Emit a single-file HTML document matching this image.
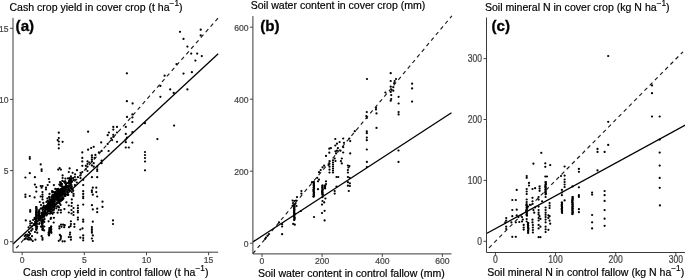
<!DOCTYPE html>
<html lang="en"><head><meta charset="utf-8"><title>Cover crop vs control fallow</title>
<style>html,body{margin:0;padding:0;background:#fff;}body{width:685px;height:279px;overflow:hidden;}svg{display:block;}</style>
</head><body>
<svg width="685" height="279" viewBox="0 0 685 279" font-family="'Liberation Sans', Arial, Helvetica, sans-serif">
<rect width="685" height="279" fill="#fff"/>
<g id="panel-a">
<g fill="#000">
<circle cx="126.9" cy="73.3" r="1.12"/>
<circle cx="126.9" cy="101.2" r="1.12"/>
<circle cx="132.6" cy="103.4" r="1.12"/>
<circle cx="160.4" cy="96.8" r="1.12"/>
<circle cx="160.4" cy="85.9" r="1.12"/>
<circle cx="164.6" cy="75.7" r="1.12"/>
<circle cx="170.2" cy="89.4" r="1.12"/>
<circle cx="173.7" cy="92.9" r="1.12"/>
<circle cx="176.5" cy="64.1" r="1.12"/>
<circle cx="180" cy="31.8" r="1.12"/>
<circle cx="183.5" cy="38.9" r="1.12"/>
<circle cx="183.5" cy="73.6" r="1.12"/>
<circle cx="187.4" cy="46.6" r="1.12"/>
<circle cx="187.4" cy="89.4" r="1.12"/>
<circle cx="191.2" cy="53.6" r="1.12"/>
<circle cx="191.9" cy="72.2" r="1.12"/>
<circle cx="195.4" cy="60.6" r="1.12"/>
<circle cx="197.2" cy="53.6" r="1.12"/>
<circle cx="200.7" cy="29.7" r="1.12"/>
<circle cx="200.7" cy="35.4" r="1.12"/>
<circle cx="201.8" cy="56.1" r="1.12"/>
<circle cx="58.8" cy="132.7" r="1.12"/>
<circle cx="58.8" cy="138" r="1.12"/>
<circle cx="57.7" cy="140.1" r="1.12"/>
<circle cx="58.8" cy="141.5" r="1.12"/>
<circle cx="62.6" cy="141.8" r="1.12"/>
<circle cx="58.8" cy="144.5" r="1.12"/>
<circle cx="58.8" cy="148.3" r="1.12"/>
<circle cx="127" cy="116.9" r="1.12"/>
<circle cx="88.1" cy="131.7" r="1.12"/>
<circle cx="113.3" cy="126.9" r="1.12"/>
<circle cx="117" cy="126.9" r="1.12"/>
<circle cx="125.8" cy="126.9" r="1.12"/>
<circle cx="113.3" cy="129.6" r="1.12"/>
<circle cx="108.9" cy="132.5" r="1.12"/>
<circle cx="117" cy="132.5" r="1.12"/>
<circle cx="107.7" cy="135.2" r="1.12"/>
<circle cx="113.3" cy="134.8" r="1.12"/>
<circle cx="125.8" cy="133.9" r="1.12"/>
<circle cx="113.3" cy="136.9" r="1.12"/>
<circle cx="111.2" cy="138.3" r="1.12"/>
<circle cx="127" cy="137.5" r="1.12"/>
<circle cx="112.1" cy="140.1" r="1.12"/>
<circle cx="125.8" cy="139.6" r="1.12"/>
<circle cx="117" cy="141.8" r="1.12"/>
<circle cx="125.8" cy="142.2" r="1.12"/>
<circle cx="101.2" cy="142.4" r="1.12"/>
<circle cx="107.7" cy="143.9" r="1.12"/>
<circle cx="108.6" cy="151" r="1.12"/>
<circle cx="93.7" cy="146.8" r="1.12"/>
<circle cx="91.1" cy="148" r="1.12"/>
<circle cx="88.1" cy="149.7" r="1.12"/>
<circle cx="125.8" cy="147.5" r="1.12"/>
<circle cx="128.8" cy="147.5" r="1.12"/>
<circle cx="82.3" cy="152.4" r="1.12"/>
<circle cx="98.9" cy="152.4" r="1.12"/>
<circle cx="132.4" cy="114.4" r="1.12"/>
<circle cx="132.4" cy="117.4" r="1.12"/>
<circle cx="132.4" cy="122" r="1.12"/>
<circle cx="145" cy="123.2" r="1.12"/>
<circle cx="174.1" cy="125.6" r="1.12"/>
<circle cx="157.4" cy="139.1" r="1.12"/>
<circle cx="132.4" cy="132" r="1.12"/>
<circle cx="132.4" cy="142.6" r="1.12"/>
<circle cx="145" cy="152" r="1.12"/>
<circle cx="145" cy="155" r="1.12"/>
<circle cx="145" cy="158" r="1.12"/>
<circle cx="145" cy="161.5" r="1.12"/>
<circle cx="145" cy="170.3" r="1.12"/>
<circle cx="29.8" cy="157" r="1.12"/>
<circle cx="29.8" cy="158.8" r="1.12"/>
<circle cx="40.7" cy="164.4" r="1.12"/>
<circle cx="41.6" cy="169.3" r="1.12"/>
<circle cx="41.6" cy="171" r="1.12"/>
<circle cx="59.6" cy="168.1" r="1.12"/>
<circle cx="58.2" cy="169.6" r="1.12"/>
<circle cx="60.9" cy="169.6" r="1.12"/>
<circle cx="69.6" cy="168.4" r="1.12"/>
<circle cx="68.8" cy="172" r="1.12"/>
<circle cx="29.8" cy="173.2" r="1.12"/>
<circle cx="25.4" cy="177.5" r="1.12"/>
<circle cx="34.9" cy="177.2" r="1.12"/>
<circle cx="62.6" cy="175.4" r="1.12"/>
<circle cx="62.6" cy="178" r="1.12"/>
<circle cx="48.9" cy="179" r="1.12"/>
<circle cx="49.5" cy="182" r="1.12"/>
<circle cx="60" cy="182" r="1.12"/>
<circle cx="60.9" cy="184.2" r="1.12"/>
<circle cx="65.3" cy="181.6" r="1.12"/>
<circle cx="34.9" cy="184.6" r="1.12"/>
<circle cx="36.3" cy="187.2" r="1.12"/>
<circle cx="40.7" cy="186" r="1.12"/>
<circle cx="42.5" cy="186" r="1.12"/>
<circle cx="41.6" cy="187.7" r="1.12"/>
<circle cx="47.7" cy="185.1" r="1.12"/>
<circle cx="46" cy="187.7" r="1.12"/>
<circle cx="46" cy="189.5" r="1.12"/>
<circle cx="53.9" cy="185.1" r="1.12"/>
<circle cx="36.3" cy="191.6" r="1.12"/>
<circle cx="42.5" cy="192.1" r="1.12"/>
<circle cx="42.5" cy="194.7" r="1.12"/>
<circle cx="52.1" cy="191.2" r="1.12"/>
<circle cx="49.5" cy="193.9" r="1.12"/>
<circle cx="25.4" cy="194.7" r="1.12"/>
<circle cx="25.4" cy="197" r="1.12"/>
<circle cx="29.8" cy="196" r="1.12"/>
<circle cx="34.6" cy="197.4" r="1.12"/>
<circle cx="40.7" cy="196.5" r="1.12"/>
<circle cx="101.6" cy="150.9" r="1.12"/>
<circle cx="91.9" cy="155.3" r="1.12"/>
<circle cx="91.9" cy="157.4" r="1.12"/>
<circle cx="91.9" cy="159.6" r="1.12"/>
<circle cx="95.4" cy="154.9" r="1.12"/>
<circle cx="94.6" cy="157.9" r="1.12"/>
<circle cx="82.3" cy="157.9" r="1.12"/>
<circle cx="82.3" cy="161.4" r="1.12"/>
<circle cx="101.6" cy="160.5" r="1.12"/>
<circle cx="101.6" cy="163.2" r="1.12"/>
<circle cx="87.5" cy="161.4" r="1.12"/>
<circle cx="89.3" cy="162.6" r="1.12"/>
<circle cx="87.5" cy="164" r="1.12"/>
<circle cx="85.8" cy="165.8" r="1.12"/>
<circle cx="87.5" cy="166.7" r="1.12"/>
<circle cx="91.9" cy="161.4" r="1.12"/>
<circle cx="93.7" cy="163.2" r="1.12"/>
<circle cx="91.9" cy="165.4" r="1.12"/>
<circle cx="93.7" cy="166.7" r="1.12"/>
<circle cx="82.3" cy="165.8" r="1.12"/>
<circle cx="97.2" cy="166.7" r="1.12"/>
<circle cx="97.2" cy="169.3" r="1.12"/>
<circle cx="97.2" cy="171" r="1.12"/>
<circle cx="85.8" cy="169.3" r="1.12"/>
<circle cx="87.5" cy="171" r="1.12"/>
<circle cx="77" cy="170.2" r="1.12"/>
<circle cx="72.6" cy="172.8" r="1.12"/>
<circle cx="80.5" cy="172.8" r="1.12"/>
<circle cx="80.5" cy="175.4" r="1.12"/>
<circle cx="80.5" cy="178.1" r="1.12"/>
<circle cx="82.3" cy="172" r="1.12"/>
<circle cx="77.9" cy="177.2" r="1.12"/>
<circle cx="75.3" cy="179.8" r="1.12"/>
<circle cx="91.9" cy="177.2" r="1.12"/>
<circle cx="97.2" cy="177.2" r="1.12"/>
<circle cx="83.2" cy="179.8" r="1.12"/>
<circle cx="70.9" cy="176.3" r="1.12"/>
<circle cx="70.9" cy="179" r="1.12"/>
<circle cx="71.8" cy="181.6" r="1.12"/>
<circle cx="70.9" cy="184.2" r="1.12"/>
<circle cx="83.2" cy="185.1" r="1.12"/>
<circle cx="71.8" cy="186.8" r="1.12"/>
<circle cx="72.6" cy="189.5" r="1.12"/>
<circle cx="71.8" cy="192.1" r="1.12"/>
<circle cx="73.5" cy="193.9" r="1.12"/>
<circle cx="92.8" cy="187.7" r="1.12"/>
<circle cx="96.3" cy="187.7" r="1.12"/>
<circle cx="91.9" cy="190.4" r="1.12"/>
<circle cx="91.9" cy="192.1" r="1.12"/>
<circle cx="96.3" cy="192.1" r="1.12"/>
<circle cx="92.8" cy="194.7" r="1.12"/>
<circle cx="97.2" cy="196.5" r="1.12"/>
<circle cx="83.2" cy="191.2" r="1.12"/>
<circle cx="83.2" cy="193.9" r="1.12"/>
<circle cx="83.2" cy="196.5" r="1.12"/>
<circle cx="83.2" cy="198.2" r="1.12"/>
<circle cx="36.3" cy="207" r="1.12"/>
<circle cx="36.3" cy="208.9" r="1.12"/>
<circle cx="36.3" cy="210.8" r="1.12"/>
<circle cx="36.3" cy="212.7" r="1.12"/>
<circle cx="36.3" cy="214.6" r="1.12"/>
<circle cx="36.3" cy="216.5" r="1.12"/>
<circle cx="36.3" cy="218.4" r="1.12"/>
<circle cx="36.3" cy="220.3" r="1.12"/>
<circle cx="36.3" cy="222.2" r="1.12"/>
<circle cx="36.3" cy="224.1" r="1.12"/>
<circle cx="36.3" cy="226" r="1.12"/>
<circle cx="36.3" cy="227.9" r="1.12"/>
<circle cx="36.3" cy="229.8" r="1.12"/>
<circle cx="42.5" cy="216" r="1.12"/>
<circle cx="42.5" cy="217.9" r="1.12"/>
<circle cx="42.5" cy="219.8" r="1.12"/>
<circle cx="42.5" cy="221.7" r="1.12"/>
<circle cx="42.5" cy="223.6" r="1.12"/>
<circle cx="42.5" cy="225.5" r="1.12"/>
<circle cx="42.5" cy="227.4" r="1.12"/>
<circle cx="42.5" cy="229.3" r="1.12"/>
<circle cx="51.2" cy="226.6" r="1.12"/>
<circle cx="51.2" cy="229.2" r="1.12"/>
<circle cx="51.2" cy="231.8" r="1.12"/>
<circle cx="30.2" cy="210" r="1.12"/>
<circle cx="30.2" cy="211.7" r="1.12"/>
<circle cx="25.8" cy="220.4" r="1.12"/>
<circle cx="30.2" cy="221.3" r="1.12"/>
<circle cx="31.9" cy="223" r="1.12"/>
<circle cx="48.6" cy="221.3" r="1.12"/>
<circle cx="53.9" cy="217.8" r="1.12"/>
<circle cx="60.9" cy="212.5" r="1.12"/>
<circle cx="60.9" cy="210" r="1.12"/>
<circle cx="68.8" cy="205.5" r="1.12"/>
<circle cx="68.8" cy="212.5" r="1.12"/>
<circle cx="27.5" cy="234.5" r="1.12"/>
<circle cx="27.5" cy="236.2" r="1.12"/>
<circle cx="32" cy="236.2" r="1.12"/>
<circle cx="37.2" cy="232.7" r="1.12"/>
<circle cx="41.6" cy="236.2" r="1.12"/>
<circle cx="42.5" cy="238" r="1.12"/>
<circle cx="48.6" cy="232.7" r="1.12"/>
<circle cx="48.6" cy="234.5" r="1.12"/>
<circle cx="60.9" cy="236.2" r="1.12"/>
<circle cx="60.9" cy="238" r="1.12"/>
<circle cx="68.8" cy="237.1" r="1.12"/>
<circle cx="35.4" cy="239.7" r="1.12"/>
<circle cx="32.8" cy="241" r="1.12"/>
<circle cx="42.5" cy="196.8" r="1.12"/>
<circle cx="42.5" cy="199.4" r="1.12"/>
<circle cx="39.8" cy="202" r="1.12"/>
<circle cx="43.3" cy="202.9" r="1.12"/>
<circle cx="59.4" cy="226.3" r="1.12"/>
<circle cx="59.4" cy="228.4" r="1.12"/>
<circle cx="61" cy="224.7" r="1.12"/>
<circle cx="61.5" cy="226.8" r="1.12"/>
<circle cx="63.1" cy="224.7" r="1.12"/>
<circle cx="64.7" cy="225.2" r="1.12"/>
<circle cx="64.2" cy="227.2" r="1.12"/>
<circle cx="69" cy="227.2" r="1.12"/>
<circle cx="70.6" cy="226.1" r="1.12"/>
<circle cx="74.4" cy="224.1" r="1.12"/>
<circle cx="74.4" cy="226.8" r="1.12"/>
<circle cx="70.1" cy="232.7" r="1.12"/>
<circle cx="80.3" cy="229.5" r="1.12"/>
<circle cx="82.5" cy="228.4" r="1.12"/>
<circle cx="59.9" cy="234.9" r="1.12"/>
<circle cx="58.8" cy="240.8" r="1.12"/>
<circle cx="62.6" cy="241.3" r="1.12"/>
<circle cx="64.7" cy="241.3" r="1.12"/>
<circle cx="80.3" cy="237.6" r="1.12"/>
<circle cx="73.5" cy="195.9" r="1.12"/>
<circle cx="102.5" cy="201.7" r="1.12"/>
<circle cx="102.5" cy="206.9" r="1.12"/>
<circle cx="71.8" cy="199.4" r="1.12"/>
<circle cx="71.8" cy="202.9" r="1.12"/>
<circle cx="83.2" cy="204.6" r="1.12"/>
<circle cx="91.9" cy="205.2" r="1.12"/>
<circle cx="77.9" cy="205.5" r="1.12"/>
<circle cx="77.9" cy="208.2" r="1.12"/>
<circle cx="77.9" cy="210.8" r="1.12"/>
<circle cx="77.9" cy="212.5" r="1.12"/>
<circle cx="71.5" cy="206" r="1.12"/>
<circle cx="73.5" cy="208" r="1.12"/>
<circle cx="71.5" cy="210" r="1.12"/>
<circle cx="73.5" cy="212" r="1.12"/>
<circle cx="71.5" cy="213.5" r="1.12"/>
<circle cx="73.5" cy="215" r="1.12"/>
<circle cx="92.8" cy="209.4" r="1.12"/>
<circle cx="97.2" cy="208.7" r="1.12"/>
<circle cx="97.2" cy="212.2" r="1.12"/>
<circle cx="77.9" cy="217.5" r="1.12"/>
<circle cx="77.9" cy="219.6" r="1.12"/>
<circle cx="83.2" cy="219.6" r="1.12"/>
<circle cx="83.2" cy="221.7" r="1.12"/>
<circle cx="92.8" cy="221.7" r="1.12"/>
<circle cx="70.9" cy="221.3" r="1.12"/>
<circle cx="70.9" cy="224" r="1.12"/>
<circle cx="113" cy="220.4" r="1.12"/>
<circle cx="113" cy="224" r="1.12"/>
<circle cx="91.9" cy="227" r="1.12"/>
<circle cx="91.9" cy="229.2" r="1.12"/>
<circle cx="91.9" cy="231" r="1.12"/>
<circle cx="91.9" cy="232.7" r="1.12"/>
<circle cx="70.9" cy="237.1" r="1.12"/>
<circle cx="70.9" cy="239.7" r="1.12"/>
<circle cx="83.2" cy="235.4" r="1.12"/>
<circle cx="83.2" cy="238" r="1.12"/>
<circle cx="83.2" cy="240.3" r="1.12"/>
<circle cx="92.8" cy="235.4" r="1.12"/>
<circle cx="91.9" cy="238.5" r="1.12"/>
<circle cx="92.8" cy="241" r="1.12"/>
<circle cx="24.7" cy="236" r="1.12"/>
<circle cx="25.8" cy="234.9" r="1.12"/>
<circle cx="25.8" cy="238.1" r="1.12"/>
<circle cx="27.4" cy="239.2" r="1.12"/>
<circle cx="28.5" cy="237.6" r="1.12"/>
<circle cx="29" cy="235.4" r="1.12"/>
<circle cx="29" cy="232.2" r="1.12"/>
<circle cx="29" cy="239.7" r="1.12"/>
<circle cx="30.1" cy="238.1" r="1.12"/>
<circle cx="30.1" cy="233.8" r="1.12"/>
<circle cx="31.2" cy="230.6" r="1.12"/>
<circle cx="31.2" cy="239.7" r="1.12"/>
<circle cx="32.3" cy="229" r="1.12"/>
<circle cx="24.7" cy="239.2" r="1.12"/>
<circle cx="42.5" cy="239.7" r="1.12"/>
<circle cx="60.4" cy="239.6" r="1.12"/>
<circle cx="49.4" cy="228" r="1.12"/>
<circle cx="49.4" cy="230.2" r="1.12"/>
<circle cx="69.9" cy="234.6" r="1.12"/>
<circle cx="31.9" cy="226.5" r="1.12"/>
<circle cx="44.3" cy="226.5" r="1.12"/>
<circle cx="30.2" cy="225.5" r="1.12"/>
<circle cx="28.6" cy="227.4" r="1.12"/>
<circle cx="30.3" cy="223.5" r="1.12"/>
<circle cx="34.4" cy="225" r="1.12"/>
<circle cx="44.2" cy="221.9" r="1.12"/>
<circle cx="39.6" cy="223.1" r="1.12"/>
<circle cx="40.9" cy="226.6" r="1.12"/>
<circle cx="44.1" cy="230.4" r="1.12"/>
<circle cx="36.3" cy="207" r="1.12"/>
<circle cx="36.4" cy="208.2" r="1.12"/>
<circle cx="36.7" cy="209.5" r="1.12"/>
<circle cx="36.3" cy="210.8" r="1.12"/>
<circle cx="36.3" cy="212" r="1.12"/>
<circle cx="36.4" cy="213.2" r="1.12"/>
<circle cx="36" cy="214.5" r="1.12"/>
<circle cx="36.3" cy="215.8" r="1.12"/>
<circle cx="36.4" cy="217" r="1.12"/>
<circle cx="36.6" cy="218.2" r="1.12"/>
<circle cx="35.9" cy="219.5" r="1.12"/>
<circle cx="36.1" cy="220.8" r="1.12"/>
<circle cx="35.9" cy="222" r="1.12"/>
<circle cx="36.6" cy="223.2" r="1.12"/>
<circle cx="36.5" cy="224.5" r="1.12"/>
<circle cx="35.9" cy="225.8" r="1.12"/>
<circle cx="36.7" cy="227" r="1.12"/>
<circle cx="36.7" cy="228.2" r="1.12"/>
<circle cx="36.4" cy="229.5" r="1.12"/>
<circle cx="42.6" cy="216" r="1.12"/>
<circle cx="42.2" cy="217.2" r="1.12"/>
<circle cx="42.1" cy="218.5" r="1.12"/>
<circle cx="42.5" cy="219.8" r="1.12"/>
<circle cx="42.1" cy="221" r="1.12"/>
<circle cx="42.2" cy="222.2" r="1.12"/>
<circle cx="42.3" cy="223.5" r="1.12"/>
<circle cx="42.1" cy="224.8" r="1.12"/>
<circle cx="42.5" cy="226" r="1.12"/>
<circle cx="42.4" cy="227.2" r="1.12"/>
<circle cx="42.8" cy="228.5" r="1.12"/>
<circle cx="42.5" cy="229.8" r="1.12"/>
<circle cx="51.1" cy="226.6" r="1.12"/>
<circle cx="51" cy="227.8" r="1.12"/>
<circle cx="51.1" cy="229.1" r="1.12"/>
<circle cx="51" cy="230.3" r="1.12"/>
<circle cx="50.8" cy="231.6" r="1.12"/>
<circle cx="51.4" cy="232.8" r="1.12"/>
<circle cx="49.8" cy="228" r="1.12"/>
<circle cx="49.7" cy="229.2" r="1.12"/>
<circle cx="49.6" cy="230.5" r="1.12"/>
<circle cx="49.2" cy="231.8" r="1.12"/>
<circle cx="49.2" cy="233" r="1.12"/>
<circle cx="49.2" cy="234.2" r="1.12"/>
<circle cx="49" cy="235.5" r="1.12"/>
<circle cx="51.8" cy="201.3" r="1.12"/>
<circle cx="52.1" cy="204.4" r="1.12"/>
<circle cx="44.9" cy="211.8" r="1.12"/>
<circle cx="65.8" cy="186.5" r="1.12"/>
<circle cx="65" cy="188.1" r="1.12"/>
<circle cx="58.4" cy="195.4" r="1.12"/>
<circle cx="37.4" cy="215.5" r="1.12"/>
<circle cx="59.6" cy="192.9" r="1.12"/>
<circle cx="37.2" cy="226.5" r="1.12"/>
<circle cx="45.3" cy="212.4" r="1.12"/>
<circle cx="57.5" cy="197.4" r="1.12"/>
<circle cx="59.7" cy="197.5" r="1.12"/>
<circle cx="57.6" cy="195.5" r="1.12"/>
<circle cx="47.7" cy="200.8" r="1.12"/>
<circle cx="60.1" cy="189.5" r="1.12"/>
<circle cx="48.1" cy="210.5" r="1.12"/>
<circle cx="50.9" cy="204.8" r="1.12"/>
<circle cx="60.9" cy="192.6" r="1.12"/>
<circle cx="49.9" cy="209.5" r="1.12"/>
<circle cx="49.1" cy="201.3" r="1.12"/>
<circle cx="46.2" cy="208.5" r="1.12"/>
<circle cx="58.8" cy="202" r="1.12"/>
<circle cx="54.9" cy="194.7" r="1.12"/>
<circle cx="33.9" cy="224.2" r="1.12"/>
<circle cx="53.3" cy="205.1" r="1.12"/>
<circle cx="59.5" cy="195.3" r="1.12"/>
<circle cx="39.5" cy="213.4" r="1.12"/>
<circle cx="61.3" cy="189.3" r="1.12"/>
<circle cx="69.1" cy="183.1" r="1.12"/>
<circle cx="55.6" cy="204.6" r="1.12"/>
<circle cx="60.7" cy="196.3" r="1.12"/>
<circle cx="49.8" cy="210.8" r="1.12"/>
<circle cx="44.5" cy="213.5" r="1.12"/>
<circle cx="67.6" cy="194.7" r="1.12"/>
<circle cx="39.5" cy="215.8" r="1.12"/>
<circle cx="69.2" cy="182.2" r="1.12"/>
<circle cx="35" cy="232" r="1.12"/>
<circle cx="58.1" cy="199.7" r="1.12"/>
<circle cx="43" cy="209" r="1.12"/>
<circle cx="65.7" cy="187.7" r="1.12"/>
<circle cx="56.9" cy="196.1" r="1.12"/>
<circle cx="70.7" cy="180.4" r="1.12"/>
<circle cx="59.7" cy="192.6" r="1.12"/>
<circle cx="38.4" cy="212.7" r="1.12"/>
<circle cx="64.2" cy="187.8" r="1.12"/>
<circle cx="34.3" cy="225.1" r="1.12"/>
<circle cx="63" cy="198.7" r="1.12"/>
<circle cx="52.5" cy="198.4" r="1.12"/>
<circle cx="41" cy="208.5" r="1.12"/>
<circle cx="60.1" cy="195.1" r="1.12"/>
<circle cx="57.7" cy="194.3" r="1.12"/>
<circle cx="55.6" cy="194.5" r="1.12"/>
<circle cx="47.7" cy="209.6" r="1.12"/>
<circle cx="65.1" cy="188.9" r="1.12"/>
<circle cx="45.4" cy="206.4" r="1.12"/>
<circle cx="69.4" cy="186.2" r="1.12"/>
<circle cx="40.3" cy="216.4" r="1.12"/>
<circle cx="52.9" cy="203.5" r="1.12"/>
<circle cx="68.8" cy="189.3" r="1.12"/>
<circle cx="67.3" cy="191.8" r="1.12"/>
<circle cx="46.4" cy="206.7" r="1.12"/>
<circle cx="65.9" cy="184.5" r="1.12"/>
<circle cx="57.9" cy="196.2" r="1.12"/>
<circle cx="56" cy="196.5" r="1.12"/>
<circle cx="52.6" cy="201.4" r="1.12"/>
<circle cx="60.3" cy="194.2" r="1.12"/>
<circle cx="62.2" cy="189.8" r="1.12"/>
<circle cx="74.9" cy="177" r="1.12"/>
<circle cx="50.1" cy="206.9" r="1.12"/>
<circle cx="54.3" cy="196.9" r="1.12"/>
<circle cx="51" cy="202.7" r="1.12"/>
<circle cx="73.2" cy="190.8" r="1.12"/>
<circle cx="42.9" cy="212" r="1.12"/>
<circle cx="58.5" cy="195.2" r="1.12"/>
<circle cx="50" cy="202.7" r="1.12"/>
<circle cx="57.3" cy="199.6" r="1.12"/>
<circle cx="58" cy="198.9" r="1.12"/>
<circle cx="53.4" cy="202.6" r="1.12"/>
<circle cx="53.8" cy="212.5" r="1.12"/>
<circle cx="49.4" cy="201.8" r="1.12"/>
<circle cx="42.5" cy="213.8" r="1.12"/>
<circle cx="64.2" cy="186.5" r="1.12"/>
<circle cx="69.6" cy="191.1" r="1.12"/>
<circle cx="50.8" cy="205.9" r="1.12"/>
<circle cx="60.8" cy="189.2" r="1.12"/>
<circle cx="65.5" cy="194.5" r="1.12"/>
<circle cx="61.4" cy="199.2" r="1.12"/>
<circle cx="56.2" cy="193.7" r="1.12"/>
<circle cx="52.9" cy="201.5" r="1.12"/>
<circle cx="62.6" cy="191.2" r="1.12"/>
<circle cx="53.5" cy="195.2" r="1.12"/>
<circle cx="65.1" cy="190.2" r="1.12"/>
<circle cx="42.7" cy="209.5" r="1.12"/>
<circle cx="51.7" cy="203" r="1.12"/>
<circle cx="61.6" cy="191.9" r="1.12"/>
<circle cx="60.9" cy="199.8" r="1.12"/>
<circle cx="39" cy="214.8" r="1.12"/>
<circle cx="44.6" cy="215.5" r="1.12"/>
<circle cx="39.4" cy="211.7" r="1.12"/>
<circle cx="62" cy="186.2" r="1.12"/>
<circle cx="44.8" cy="211" r="1.12"/>
<circle cx="42.8" cy="210.1" r="1.12"/>
<circle cx="70.6" cy="186.6" r="1.12"/>
<circle cx="70.3" cy="179.2" r="1.12"/>
<circle cx="52.6" cy="210.7" r="1.12"/>
<circle cx="68.8" cy="185.4" r="1.12"/>
<circle cx="48.3" cy="205.6" r="1.12"/>
<circle cx="58.6" cy="189.9" r="1.12"/>
<circle cx="44" cy="207.2" r="1.12"/>
<circle cx="69.6" cy="178.1" r="1.12"/>
<circle cx="52.6" cy="205.7" r="1.12"/>
<circle cx="64.8" cy="188.8" r="1.12"/>
<circle cx="55.7" cy="193.3" r="1.12"/>
<circle cx="51.7" cy="213" r="1.12"/>
<circle cx="50.5" cy="212.5" r="1.12"/>
<circle cx="62.8" cy="190.2" r="1.12"/>
<circle cx="48.2" cy="207.4" r="1.12"/>
<circle cx="62.9" cy="191" r="1.12"/>
<circle cx="68" cy="186.1" r="1.12"/>
<circle cx="65" cy="182.9" r="1.12"/>
<circle cx="70.9" cy="185.5" r="1.12"/>
<circle cx="63.4" cy="198.6" r="1.12"/>
<circle cx="43.4" cy="220.7" r="1.12"/>
<circle cx="65.3" cy="193.8" r="1.12"/>
<circle cx="54.3" cy="201.5" r="1.12"/>
<circle cx="54.1" cy="203.3" r="1.12"/>
<circle cx="56.8" cy="190.6" r="1.12"/>
<circle cx="54.9" cy="197.9" r="1.12"/>
<circle cx="64.6" cy="190.3" r="1.12"/>
<circle cx="41.6" cy="216.8" r="1.12"/>
<circle cx="65.4" cy="195.5" r="1.12"/>
<circle cx="48.3" cy="203.1" r="1.12"/>
<circle cx="62.5" cy="191.8" r="1.12"/>
<circle cx="62.6" cy="191" r="1.12"/>
<circle cx="42.4" cy="220.1" r="1.12"/>
<circle cx="47.9" cy="203.9" r="1.12"/>
<circle cx="48.6" cy="210.6" r="1.12"/>
<circle cx="46.5" cy="215.5" r="1.12"/>
<circle cx="53.2" cy="206.8" r="1.12"/>
<circle cx="58.1" cy="206.3" r="1.12"/>
<circle cx="57.8" cy="199.6" r="1.12"/>
<circle cx="34.6" cy="219.1" r="1.12"/>
<circle cx="51.6" cy="212.8" r="1.12"/>
<circle cx="45.5" cy="209.1" r="1.12"/>
<circle cx="49.7" cy="202.5" r="1.12"/>
<circle cx="62.1" cy="189.6" r="1.12"/>
<circle cx="57.8" cy="191.5" r="1.12"/>
<circle cx="61.2" cy="191.4" r="1.12"/>
<circle cx="33.1" cy="220" r="1.12"/>
<circle cx="67.8" cy="187.3" r="1.12"/>
<circle cx="49.6" cy="197.8" r="1.12"/>
<circle cx="36.5" cy="218.1" r="1.12"/>
<circle cx="44.9" cy="208" r="1.12"/>
<circle cx="73.7" cy="180.2" r="1.12"/>
<circle cx="60.1" cy="190.6" r="1.12"/>
<circle cx="45.2" cy="211" r="1.12"/>
<circle cx="57.4" cy="193.9" r="1.12"/>
<circle cx="54.1" cy="201.8" r="1.12"/>
<circle cx="44" cy="213.3" r="1.12"/>
<circle cx="63.5" cy="190.3" r="1.12"/>
<circle cx="45.7" cy="213.5" r="1.12"/>
<circle cx="66.1" cy="185.3" r="1.12"/>
<circle cx="60.8" cy="191.7" r="1.12"/>
<circle cx="71.6" cy="180.2" r="1.12"/>
<circle cx="53.7" cy="199.2" r="1.12"/>
<circle cx="34.6" cy="217.9" r="1.12"/>
<circle cx="57.7" cy="199.9" r="1.12"/>
<circle cx="68" cy="178.4" r="1.12"/>
<circle cx="40.1" cy="218.9" r="1.12"/>
<circle cx="57.4" cy="196.6" r="1.12"/>
<circle cx="50.4" cy="209" r="1.12"/>
<circle cx="65" cy="194" r="1.12"/>
<circle cx="40.7" cy="208.5" r="1.12"/>
<circle cx="64.5" cy="182.1" r="1.12"/>
<circle cx="62.7" cy="195.2" r="1.12"/>
<circle cx="57.1" cy="206.6" r="1.12"/>
<circle cx="46.8" cy="209.1" r="1.12"/>
<circle cx="59.8" cy="197.8" r="1.12"/>
<circle cx="53.2" cy="200.1" r="1.12"/>
<circle cx="58.3" cy="193.8" r="1.12"/>
<circle cx="56.6" cy="199.6" r="1.12"/>
<circle cx="62.5" cy="191.6" r="1.12"/>
<circle cx="46" cy="212.3" r="1.12"/>
<circle cx="54.4" cy="201" r="1.12"/>
<circle cx="56" cy="198.9" r="1.12"/>
<circle cx="56.2" cy="199.2" r="1.12"/>
<circle cx="41.6" cy="212.8" r="1.12"/>
<circle cx="65.2" cy="187.1" r="1.12"/>
<circle cx="52.5" cy="200.8" r="1.12"/>
<circle cx="44.6" cy="219.1" r="1.12"/>
<circle cx="55" cy="203.8" r="1.12"/>
<circle cx="62" cy="196.9" r="1.12"/>
<circle cx="43.8" cy="205.6" r="1.12"/>
<circle cx="50.5" cy="210.5" r="1.12"/>
<circle cx="46.6" cy="206.9" r="1.12"/>
<circle cx="59.5" cy="194.4" r="1.12"/>
<circle cx="69.6" cy="181.2" r="1.12"/>
<circle cx="54.2" cy="198.4" r="1.12"/>
<circle cx="71.3" cy="178.2" r="1.12"/>
<circle cx="64.9" cy="193.7" r="1.12"/>
<circle cx="52.9" cy="199.2" r="1.12"/>
<circle cx="51.4" cy="199.5" r="1.12"/>
<circle cx="60.5" cy="190.2" r="1.12"/>
<circle cx="52.3" cy="192.4" r="1.12"/>
<circle cx="67.1" cy="187.7" r="1.12"/>
<circle cx="55.3" cy="188.9" r="1.12"/>
<circle cx="50.9" cy="200.8" r="1.12"/>
<circle cx="64.4" cy="189.7" r="1.12"/>
<circle cx="42.5" cy="212.8" r="1.12"/>
<circle cx="58.1" cy="191.9" r="1.12"/>
<circle cx="62.4" cy="191.8" r="1.12"/>
<circle cx="63.1" cy="188.9" r="1.12"/>
<circle cx="56.5" cy="198.1" r="1.12"/>
<circle cx="51.9" cy="200.5" r="1.12"/>
<circle cx="43.7" cy="214.9" r="1.12"/>
<circle cx="54.5" cy="206.6" r="1.12"/>
<circle cx="50" cy="213.7" r="1.12"/>
<circle cx="47.4" cy="205.8" r="1.12"/>
<circle cx="60.2" cy="194.5" r="1.12"/>
<circle cx="52" cy="209" r="1.12"/>
<circle cx="73.1" cy="178.2" r="1.12"/>
<circle cx="65.6" cy="192.1" r="1.12"/>
<circle cx="52.5" cy="210.2" r="1.12"/>
<circle cx="62.4" cy="188.1" r="1.12"/>
<circle cx="35" cy="221.8" r="1.12"/>
<circle cx="60.9" cy="200.9" r="1.12"/>
<circle cx="35.8" cy="225.2" r="1.12"/>
<circle cx="48" cy="213.4" r="1.12"/>
<circle cx="54.7" cy="199.2" r="1.12"/>
<circle cx="60.9" cy="190.7" r="1.12"/>
<circle cx="69.8" cy="179.1" r="1.12"/>
<circle cx="41" cy="217.2" r="1.12"/>
<circle cx="43.6" cy="216.8" r="1.12"/>
<circle cx="53.6" cy="201.5" r="1.12"/>
<circle cx="59.4" cy="201.7" r="1.12"/>
<circle cx="41.8" cy="214.4" r="1.12"/>
<circle cx="52.4" cy="204.1" r="1.12"/>
<circle cx="53.8" cy="204.4" r="1.12"/>
<circle cx="61.6" cy="191.4" r="1.12"/>
<circle cx="53.5" cy="204.3" r="1.12"/>
<circle cx="52.6" cy="213.8" r="1.12"/>
<circle cx="44.4" cy="211.3" r="1.12"/>
<circle cx="39.1" cy="216.4" r="1.12"/>
<circle cx="55.9" cy="204.6" r="1.12"/>
<circle cx="51.9" cy="204.7" r="1.12"/>
<circle cx="59.1" cy="193" r="1.12"/>
<circle cx="54" cy="204.5" r="1.12"/>
<circle cx="52.9" cy="202.5" r="1.12"/>
<circle cx="61.9" cy="191.2" r="1.12"/>
<circle cx="47" cy="214.2" r="1.12"/>
<circle cx="50.6" cy="207.8" r="1.12"/>
<circle cx="43.1" cy="213.4" r="1.12"/>
<circle cx="49.4" cy="205.6" r="1.12"/>
<circle cx="59.8" cy="196.5" r="1.12"/>
<circle cx="51.1" cy="199.6" r="1.12"/>
<circle cx="55.7" cy="194.6" r="1.12"/>
<circle cx="46.7" cy="207.9" r="1.12"/>
<circle cx="60.6" cy="184.3" r="1.12"/>
<circle cx="57.7" cy="191.7" r="1.12"/>
<circle cx="62.2" cy="188.2" r="1.12"/>
<circle cx="59.6" cy="195.6" r="1.12"/>
<circle cx="59.6" cy="199.4" r="1.12"/>
<circle cx="66.5" cy="191.7" r="1.12"/>
<circle cx="57" cy="189.1" r="1.12"/>
<circle cx="52.1" cy="203" r="1.12"/>
<circle cx="66.3" cy="187.6" r="1.12"/>
<circle cx="46.2" cy="208.5" r="1.12"/>
<circle cx="60.4" cy="191.2" r="1.12"/>
<circle cx="46.5" cy="201.9" r="1.12"/>
<circle cx="71.4" cy="182" r="1.12"/>
<circle cx="57.2" cy="199.4" r="1.12"/>
<circle cx="68.9" cy="187.8" r="1.12"/>
<circle cx="61.3" cy="195.1" r="1.12"/>
<circle cx="47.3" cy="205.3" r="1.12"/>
<circle cx="68" cy="185.8" r="1.12"/>
<circle cx="47.5" cy="204.8" r="1.12"/>
<circle cx="53.9" cy="199.9" r="1.12"/>
<circle cx="70" cy="179" r="1.12"/>
<circle cx="49.1" cy="196.9" r="1.12"/>
<circle cx="54.5" cy="197.3" r="1.12"/>
<circle cx="47.8" cy="207.9" r="1.12"/>
<circle cx="36.6" cy="212.6" r="1.12"/>
<circle cx="68.4" cy="190.5" r="1.12"/>
<circle cx="39.1" cy="224" r="1.12"/>
<circle cx="66.4" cy="189.5" r="1.12"/>
<circle cx="53.8" cy="202.6" r="1.12"/>
<circle cx="53.2" cy="206.4" r="1.12"/>
<circle cx="54.7" cy="206.3" r="1.12"/>
<circle cx="53.7" cy="200.1" r="1.12"/>
<circle cx="59.2" cy="196.4" r="1.12"/>
<circle cx="45.2" cy="209.9" r="1.12"/>
<circle cx="49.5" cy="199.5" r="1.12"/>
<circle cx="62.3" cy="192.6" r="1.12"/>
<circle cx="49.6" cy="208.7" r="1.12"/>
<circle cx="44.9" cy="212.4" r="1.12"/>
<circle cx="57.4" cy="195.2" r="1.12"/>
<circle cx="60.2" cy="185.6" r="1.12"/>
<circle cx="47.2" cy="208.3" r="1.12"/>
<circle cx="35.4" cy="223.4" r="1.12"/>
<circle cx="56.2" cy="198.1" r="1.12"/>
<circle cx="58.6" cy="197.1" r="1.12"/>
<circle cx="58.2" cy="196.3" r="1.12"/>
<circle cx="62.3" cy="199.8" r="1.12"/>
<circle cx="45.4" cy="210.4" r="1.12"/>
<circle cx="43.9" cy="216.3" r="1.12"/>
<circle cx="60.8" cy="196.3" r="1.12"/>
<circle cx="60.9" cy="190.5" r="1.12"/>
<circle cx="57.5" cy="195.1" r="1.12"/>
<circle cx="53.4" cy="207.6" r="1.12"/>
<circle cx="54.1" cy="199" r="1.12"/>
<circle cx="49" cy="206.9" r="1.12"/>
<circle cx="62.1" cy="195.9" r="1.12"/>
<circle cx="61" cy="185.8" r="1.12"/>
<circle cx="48.8" cy="206.1" r="1.12"/>
<circle cx="52.9" cy="195.9" r="1.12"/>
<circle cx="57.6" cy="193.4" r="1.12"/>
<circle cx="47.4" cy="208.3" r="1.12"/>
<circle cx="54.3" cy="208" r="1.12"/>
<circle cx="69.1" cy="180.9" r="1.12"/>
<circle cx="36.6" cy="216.9" r="1.12"/>
<circle cx="53.1" cy="200.2" r="1.12"/>
<circle cx="58.2" cy="202.7" r="1.12"/>
<circle cx="52.3" cy="196.8" r="1.12"/>
<circle cx="48.6" cy="211.2" r="1.12"/>
<circle cx="40.5" cy="220.7" r="1.12"/>
<circle cx="57.8" cy="189.9" r="1.12"/>
<circle cx="58.8" cy="194.8" r="1.12"/>
<circle cx="49.1" cy="209.1" r="1.12"/>
<circle cx="59.8" cy="192.5" r="1.12"/>
<circle cx="44.1" cy="216.7" r="1.12"/>
<circle cx="57.4" cy="196.3" r="1.12"/>
<circle cx="41.1" cy="215.9" r="1.12"/>
<circle cx="48.9" cy="204.7" r="1.12"/>
<circle cx="53.2" cy="202.2" r="1.12"/>
<circle cx="50.8" cy="200.2" r="1.12"/>
<circle cx="68.6" cy="186.7" r="1.12"/>
<circle cx="63.1" cy="194.3" r="1.12"/>
<circle cx="55.2" cy="196.7" r="1.12"/>
<circle cx="69.9" cy="185.4" r="1.12"/>
<circle cx="53.7" cy="200.6" r="1.12"/>
<circle cx="39.1" cy="217.1" r="1.12"/>
<circle cx="47.5" cy="206.5" r="1.12"/>
<circle cx="42.9" cy="221.3" r="1.12"/>
<circle cx="54.8" cy="199.1" r="1.12"/>
<circle cx="48.8" cy="203" r="1.12"/>
<circle cx="51.6" cy="206.1" r="1.12"/>
<circle cx="59.3" cy="201.8" r="1.12"/>
<circle cx="47.5" cy="208.2" r="1.12"/>
<circle cx="63.1" cy="191.9" r="1.12"/>
<circle cx="57.6" cy="199.9" r="1.12"/>
<circle cx="57.5" cy="190.4" r="1.12"/>
<circle cx="47.4" cy="198.4" r="1.12"/>
<circle cx="47.8" cy="207.7" r="1.12"/>
<circle cx="56.2" cy="194.4" r="1.12"/>
<circle cx="41.8" cy="223" r="1.12"/>
<circle cx="60.6" cy="190.6" r="1.12"/>
<circle cx="60.8" cy="182.8" r="1.12"/>
<circle cx="56.5" cy="197.3" r="1.12"/>
<circle cx="63.9" cy="188.8" r="1.12"/>
<circle cx="71.4" cy="187.3" r="1.12"/>
<circle cx="50.6" cy="219" r="1.12"/>
<circle cx="62.7" cy="193.1" r="1.12"/>
<circle cx="63.9" cy="181.5" r="1.12"/>
<circle cx="54.4" cy="201.7" r="1.12"/>
<circle cx="49.3" cy="209.6" r="1.12"/>
<circle cx="48" cy="204.9" r="1.12"/>
<circle cx="54.8" cy="199.9" r="1.12"/>
<circle cx="52.7" cy="198.7" r="1.12"/>
<circle cx="59.5" cy="195.7" r="1.12"/>
<circle cx="61.2" cy="193.8" r="1.12"/>
<circle cx="42.6" cy="207.4" r="1.12"/>
<circle cx="59.2" cy="199.4" r="1.12"/>
<circle cx="65.4" cy="187.2" r="1.12"/>
<circle cx="38.4" cy="211.3" r="1.12"/>
<circle cx="57.8" cy="193.2" r="1.12"/>
<circle cx="56.4" cy="199" r="1.12"/>
<circle cx="38.6" cy="213.7" r="1.12"/>
<circle cx="54.7" cy="201.4" r="1.12"/>
<circle cx="58" cy="196.4" r="1.12"/>
<circle cx="61.3" cy="194.6" r="1.12"/>
<circle cx="54" cy="209.8" r="1.12"/>
<circle cx="50.1" cy="202.5" r="1.12"/>
<circle cx="68.1" cy="187.3" r="1.12"/>
<circle cx="53.2" cy="195.4" r="1.12"/>
<circle cx="51.1" cy="201.2" r="1.12"/>
<circle cx="71.6" cy="181.8" r="1.12"/>
<circle cx="66.9" cy="189.9" r="1.12"/>
<circle cx="56.5" cy="198.6" r="1.12"/>
<circle cx="55.6" cy="194.7" r="1.12"/>
<circle cx="47.6" cy="210.3" r="1.12"/>
<circle cx="59.5" cy="199.4" r="1.12"/>
<circle cx="59.5" cy="192.7" r="1.12"/>
<circle cx="51.6" cy="201.5" r="1.12"/>
<circle cx="38.6" cy="214.6" r="1.12"/>
<circle cx="38.6" cy="220.6" r="1.12"/>
<circle cx="48.7" cy="208.4" r="1.12"/>
<circle cx="63.2" cy="190.7" r="1.12"/>
<circle cx="50.4" cy="202.8" r="1.12"/>
<circle cx="70.6" cy="183" r="1.12"/>
<circle cx="58.2" cy="191.4" r="1.12"/>
<circle cx="60.6" cy="204.9" r="1.12"/>
<circle cx="38.1" cy="218.6" r="1.12"/>
<circle cx="62.1" cy="184" r="1.12"/>
<circle cx="64.6" cy="191.9" r="1.12"/>
<circle cx="47.4" cy="207.3" r="1.12"/>
<circle cx="68.2" cy="194.9" r="1.12"/>
<circle cx="47.7" cy="208.1" r="1.12"/>
<circle cx="38.6" cy="220" r="1.12"/>
<circle cx="53.6" cy="197.7" r="1.12"/>
<circle cx="50.9" cy="211.9" r="1.12"/>
<circle cx="54" cy="201.5" r="1.12"/>
<circle cx="51.3" cy="203.9" r="1.12"/>
<circle cx="65.4" cy="178.6" r="1.12"/>
<circle cx="74.9" cy="185.1" r="1.12"/>
<circle cx="53.7" cy="222.5" r="1.12"/>
<circle cx="76.8" cy="182.5" r="1.12"/>
<circle cx="57.6" cy="192.7" r="1.12"/>
<circle cx="44.4" cy="207.5" r="1.12"/>
<circle cx="57.6" cy="212.7" r="1.12"/>
<circle cx="60.8" cy="183.4" r="1.12"/>
<circle cx="39.3" cy="210.1" r="1.12"/>
<circle cx="60" cy="190.5" r="1.12"/>
<circle cx="62.3" cy="180.9" r="1.12"/>
<circle cx="55.7" cy="191.8" r="1.12"/>
<circle cx="53.8" cy="195" r="1.12"/>
<circle cx="49.8" cy="206.5" r="1.12"/>
<circle cx="75.1" cy="174.3" r="1.12"/>
<circle cx="56.3" cy="208.3" r="1.12"/>
<circle cx="50" cy="203.7" r="1.12"/>
<circle cx="67.3" cy="183" r="1.12"/>
<circle cx="63.1" cy="191.5" r="1.12"/>
<circle cx="71.4" cy="185.5" r="1.12"/>
<circle cx="52.4" cy="195.2" r="1.12"/>
<circle cx="58.5" cy="198.5" r="1.12"/>
<circle cx="52.2" cy="205.2" r="1.12"/>
<circle cx="64.1" cy="187" r="1.12"/>
<circle cx="45.9" cy="206.2" r="1.12"/>
<circle cx="59.7" cy="203.4" r="1.12"/>
<circle cx="65.6" cy="190.8" r="1.12"/>
<circle cx="54.6" cy="193.6" r="1.12"/>
<circle cx="71.1" cy="188.4" r="1.12"/>
<circle cx="62.3" cy="199.5" r="1.12"/>
<circle cx="53" cy="191.9" r="1.12"/>
<circle cx="51.5" cy="196.9" r="1.12"/>
<circle cx="53.6" cy="197.2" r="1.12"/>
<circle cx="57" cy="203.5" r="1.12"/>
<circle cx="58.7" cy="210" r="1.12"/>
<circle cx="66.4" cy="202.3" r="1.12"/>
<circle cx="69.4" cy="189.3" r="1.12"/>
<circle cx="59.3" cy="184.5" r="1.12"/>
<circle cx="59.1" cy="207.4" r="1.12"/>
<circle cx="41" cy="205" r="1.12"/>
<circle cx="65.3" cy="195.8" r="1.12"/>
<circle cx="66.5" cy="183.3" r="1.12"/>
<circle cx="64.4" cy="209.1" r="1.12"/>
<circle cx="54.9" cy="192.4" r="1.12"/>
<circle cx="65.2" cy="181.3" r="1.12"/>
<circle cx="59.6" cy="190.8" r="1.12"/>
<circle cx="48.4" cy="209.9" r="1.12"/>
<circle cx="58.3" cy="188.9" r="1.12"/>
<circle cx="53.5" cy="191.8" r="1.12"/>
<circle cx="50.1" cy="203" r="1.12"/>
<circle cx="52.7" cy="201.2" r="1.12"/>
<circle cx="51" cy="217.9" r="1.12"/>
<circle cx="68.8" cy="182.4" r="1.12"/>
<circle cx="52.3" cy="201.1" r="1.12"/>
<circle cx="67.8" cy="194.4" r="1.12"/>
<circle cx="56.8" cy="193.4" r="1.12"/>
<circle cx="63.1" cy="194" r="1.12"/>
<circle cx="70.3" cy="180.6" r="1.12"/>
</g>
<line x1="16.17" y1="248.2" x2="218.2" y2="17.9" stroke="#1a1a1a" stroke-width="1.15" stroke-dasharray="3.9 3.47" stroke-dashoffset="0"/>
<line x1="13.0" y1="243.9" x2="218.2" y2="53.7" stroke="#000" stroke-width="1.3"/>
<path d="M13.0 17.9V252.2H218.2" fill="none" stroke="#3a3a3a" stroke-width="1.0"/>
<path d="M22.2 252.2v3.0M84.3 252.2v3.0M146.5 252.2v3.0M208.6 252.2v3.0M13.0 241.7h-3.0M13.0 170.6h-3.0M13.0 99.4h-3.0M13.0 28.3h-3.0" stroke="#333" stroke-width="0.9" fill="none"/>
<g font-size="8.6" fill="#444" stroke="#444" stroke-width="0.2">
<text transform="translate(22.2,262.6) scale(1,1.07)" text-anchor="middle">0</text>
<text transform="translate(84.3,262.6) scale(1,1.07)" text-anchor="middle">5</text>
<text transform="translate(146.5,262.6) scale(1,1.07)" text-anchor="middle">10</text>
<text transform="translate(208.6,262.6) scale(1,1.07)" text-anchor="middle">15</text>
<text transform="translate(8.6,245.2) scale(1,1.07)" text-anchor="end">0</text>
<text transform="translate(8.6,174.1) scale(1,1.07)" text-anchor="end">5</text>
<text transform="translate(8.6,102.9) scale(1,1.07)" text-anchor="end">10</text>
<text transform="translate(8.6,31.8) scale(1,1.07)" text-anchor="end">15</text>
</g>
<text x="9.5" y="11.1" font-size="10.55" fill="#000" stroke="#000" stroke-width="0.18">Cash crop yield in cover crop (t ha<tspan font-size="8.3" dy="-4.9">−1</tspan><tspan dy="4.9">)</tspan></text>
<text x="23.1" y="276.3" font-size="10.55" fill="#000" stroke="#000" stroke-width="0.18">Cash crop yield in control fallow (t ha<tspan font-size="8.3" dy="-4.9">−1</tspan><tspan dy="4.9">)</tspan></text>
<text x="15.6" y="30.95" font-size="15.2" font-weight="bold" fill="#000" stroke="#000" stroke-width="0.3">(a)</text>
</g>
<g id="panel-b">
<g fill="#000">
<circle cx="266" cy="237.5" r="1.12"/>
<circle cx="267.5" cy="235.5" r="1.12"/>
<circle cx="269" cy="234" r="1.12"/>
<circle cx="282.1" cy="234.2" r="1.12"/>
<circle cx="282.1" cy="224.2" r="1.12"/>
<circle cx="282.1" cy="226.5" r="1.12"/>
<circle cx="279" cy="222.4" r="1.12"/>
<circle cx="294.3" cy="204.5" r="1.12"/>
<circle cx="294.3" cy="206.3" r="1.12"/>
<circle cx="294.3" cy="208.2" r="1.12"/>
<circle cx="294.3" cy="210" r="1.12"/>
<circle cx="294.3" cy="211.9" r="1.12"/>
<circle cx="294.3" cy="213.7" r="1.12"/>
<circle cx="294.3" cy="215.6" r="1.12"/>
<circle cx="294.3" cy="217.4" r="1.12"/>
<circle cx="294.3" cy="219.3" r="1.12"/>
<circle cx="292.6" cy="200.5" r="1.12"/>
<circle cx="294.3" cy="201" r="1.12"/>
<circle cx="296" cy="200.5" r="1.12"/>
<circle cx="293" cy="203" r="1.12"/>
<circle cx="295.5" cy="203.5" r="1.12"/>
<circle cx="292.6" cy="205.5" r="1.12"/>
<circle cx="296.5" cy="206" r="1.12"/>
<circle cx="293.2" cy="223.9" r="1.12"/>
<circle cx="294.8" cy="224.7" r="1.12"/>
<circle cx="265.2" cy="238.8" r="1.12"/>
<circle cx="300.9" cy="211" r="1.12"/>
<circle cx="326" cy="155.9" r="1.12"/>
<circle cx="334.7" cy="158.5" r="1.12"/>
<circle cx="341.8" cy="158.5" r="1.12"/>
<circle cx="340.9" cy="161.1" r="1.12"/>
<circle cx="341.8" cy="163.4" r="1.12"/>
<circle cx="329.5" cy="161.1" r="1.12"/>
<circle cx="333" cy="160.3" r="1.12"/>
<circle cx="333" cy="162.5" r="1.12"/>
<circle cx="333" cy="164.5" r="1.12"/>
<circle cx="333" cy="166.5" r="1.12"/>
<circle cx="333" cy="168.5" r="1.12"/>
<circle cx="333" cy="170.5" r="1.12"/>
<circle cx="333" cy="172.5" r="1.12"/>
<circle cx="329.5" cy="163.8" r="1.12"/>
<circle cx="329.5" cy="166.7" r="1.12"/>
<circle cx="329.5" cy="169.6" r="1.12"/>
<circle cx="329.5" cy="172.5" r="1.12"/>
<circle cx="347.9" cy="165.5" r="1.12"/>
<circle cx="347.9" cy="170" r="1.12"/>
<circle cx="347.9" cy="172.5" r="1.12"/>
<circle cx="322.5" cy="167.3" r="1.12"/>
<circle cx="320.7" cy="170" r="1.12"/>
<circle cx="319" cy="172.2" r="1.12"/>
<circle cx="336.5" cy="177" r="1.12"/>
<circle cx="338.2" cy="177" r="1.12"/>
<circle cx="347.9" cy="177" r="1.12"/>
<circle cx="349.6" cy="177.8" r="1.12"/>
<circle cx="317.2" cy="177.8" r="1.12"/>
<circle cx="319" cy="179.6" r="1.12"/>
<circle cx="318" cy="181.3" r="1.12"/>
<circle cx="313.7" cy="182.2" r="1.12"/>
<circle cx="313.7" cy="184" r="1.12"/>
<circle cx="313.7" cy="185.8" r="1.12"/>
<circle cx="313.7" cy="187.6" r="1.12"/>
<circle cx="313.7" cy="189.4" r="1.12"/>
<circle cx="313.7" cy="191.2" r="1.12"/>
<circle cx="313.7" cy="193" r="1.12"/>
<circle cx="313.7" cy="194.8" r="1.12"/>
<circle cx="313.7" cy="196.6" r="1.12"/>
<circle cx="312" cy="182.2" r="1.12"/>
<circle cx="326" cy="181.3" r="1.12"/>
<circle cx="326" cy="184" r="1.12"/>
<circle cx="325" cy="185.7" r="1.12"/>
<circle cx="325" cy="188.2" r="1.12"/>
<circle cx="322.5" cy="185.7" r="1.12"/>
<circle cx="322.5" cy="187.5" r="1.12"/>
<circle cx="322.5" cy="189.3" r="1.12"/>
<circle cx="322.5" cy="191.1" r="1.12"/>
<circle cx="322.5" cy="192.9" r="1.12"/>
<circle cx="322.5" cy="194.7" r="1.12"/>
<circle cx="318" cy="189.2" r="1.12"/>
<circle cx="336.5" cy="186.6" r="1.12"/>
<circle cx="334.7" cy="191" r="1.12"/>
<circle cx="334.7" cy="193.6" r="1.12"/>
<circle cx="347.9" cy="182.2" r="1.12"/>
<circle cx="347.9" cy="185.7" r="1.12"/>
<circle cx="348.8" cy="191" r="1.12"/>
<circle cx="301.4" cy="191" r="1.12"/>
<circle cx="301.4" cy="193.6" r="1.12"/>
<circle cx="297" cy="197.1" r="1.12"/>
<circle cx="322.5" cy="197.1" r="1.12"/>
<circle cx="322.5" cy="201" r="1.12"/>
<circle cx="324.2" cy="202.4" r="1.12"/>
<circle cx="325.4" cy="198.5" r="1.12"/>
<circle cx="322" cy="204.6" r="1.12"/>
<circle cx="324.6" cy="210.8" r="1.12"/>
<circle cx="322" cy="213" r="1.12"/>
<circle cx="314" cy="217" r="1.12"/>
<circle cx="324.6" cy="220.4" r="1.12"/>
<circle cx="376" cy="107.8" r="1.12"/>
<circle cx="376" cy="109.5" r="1.12"/>
<circle cx="376.5" cy="113.4" r="1.12"/>
<circle cx="366.8" cy="112.1" r="1.12"/>
<circle cx="366.8" cy="117.9" r="1.12"/>
<circle cx="376.5" cy="127.9" r="1.12"/>
<circle cx="366.8" cy="131.4" r="1.12"/>
<circle cx="366.8" cy="133.2" r="1.12"/>
<circle cx="366.8" cy="137.6" r="1.12"/>
<circle cx="366.8" cy="140.2" r="1.12"/>
<circle cx="366.8" cy="149.5" r="1.12"/>
<circle cx="335.3" cy="139" r="1.12"/>
<circle cx="343.2" cy="138.5" r="1.12"/>
<circle cx="349.3" cy="138.5" r="1.12"/>
<circle cx="350.2" cy="141.1" r="1.12"/>
<circle cx="339.6" cy="142" r="1.12"/>
<circle cx="337" cy="143.7" r="1.12"/>
<circle cx="335.3" cy="145.5" r="1.12"/>
<circle cx="344" cy="142.8" r="1.12"/>
<circle cx="343.2" cy="147.2" r="1.12"/>
<circle cx="337.9" cy="148.1" r="1.12"/>
<circle cx="337" cy="150.7" r="1.12"/>
<circle cx="330.9" cy="148.1" r="1.12"/>
<circle cx="340.5" cy="150.7" r="1.12"/>
<circle cx="343.2" cy="152.5" r="1.12"/>
<circle cx="336.1" cy="153.4" r="1.12"/>
<circle cx="350.2" cy="153.4" r="1.12"/>
<circle cx="398.5" cy="150.5" r="1.12"/>
<circle cx="366.9" cy="161.9" r="1.12"/>
<circle cx="398.5" cy="161.9" r="1.12"/>
<circle cx="366.9" cy="167" r="1.12"/>
<circle cx="349.4" cy="166.1" r="1.12"/>
<circle cx="348.5" cy="167.5" r="1.12"/>
<circle cx="349.9" cy="183.3" r="1.12"/>
<circle cx="349.9" cy="186" r="1.12"/>
<circle cx="390.7" cy="73.2" r="1.12"/>
<circle cx="367" cy="79" r="1.12"/>
<circle cx="390.7" cy="81" r="1.12"/>
<circle cx="396" cy="79" r="1.12"/>
<circle cx="394.7" cy="81" r="1.12"/>
<circle cx="394.2" cy="83.2" r="1.12"/>
<circle cx="412.1" cy="83.7" r="1.12"/>
<circle cx="412.1" cy="88.4" r="1.12"/>
<circle cx="390.7" cy="86.7" r="1.12"/>
<circle cx="393.3" cy="87.2" r="1.12"/>
<circle cx="391.6" cy="89.8" r="1.12"/>
<circle cx="393.3" cy="90.7" r="1.12"/>
<circle cx="390.7" cy="91.9" r="1.12"/>
<circle cx="385.4" cy="92.5" r="1.12"/>
<circle cx="391.2" cy="95.1" r="1.12"/>
<circle cx="391.2" cy="99" r="1.12"/>
<circle cx="390.7" cy="100.7" r="1.12"/>
<circle cx="398.6" cy="96.8" r="1.12"/>
<circle cx="398.6" cy="103.5" r="1.12"/>
<circle cx="412.1" cy="101.6" r="1.12"/>
<circle cx="398.6" cy="112" r="1.12"/>
<circle cx="398.6" cy="114.4" r="1.12"/>
<circle cx="366.3" cy="116.1" r="1.12"/>
<circle cx="354.8" cy="131.2" r="1.12"/>
<circle cx="329.3" cy="148.7" r="1.12"/>
<circle cx="335.5" cy="151.3" r="1.12"/>
<circle cx="329.3" cy="152.7" r="1.12"/>
<circle cx="335.5" cy="161" r="1.12"/>
<circle cx="328.5" cy="165" r="1.12"/>
<circle cx="324.1" cy="165.7" r="1.12"/>
<circle cx="313.8" cy="182.2" r="1.12"/>
<circle cx="313.9" cy="183.5" r="1.12"/>
<circle cx="313.9" cy="184.8" r="1.12"/>
<circle cx="314" cy="186.1" r="1.12"/>
<circle cx="313.9" cy="187.4" r="1.12"/>
<circle cx="314" cy="188.7" r="1.12"/>
<circle cx="313.4" cy="190" r="1.12"/>
<circle cx="313.7" cy="191.3" r="1.12"/>
<circle cx="314" cy="192.6" r="1.12"/>
<circle cx="313.8" cy="193.9" r="1.12"/>
<circle cx="314" cy="195.2" r="1.12"/>
<circle cx="313.4" cy="196.5" r="1.12"/>
<circle cx="322.5" cy="185.7" r="1.12"/>
<circle cx="322.3" cy="187" r="1.12"/>
<circle cx="322.5" cy="188.3" r="1.12"/>
<circle cx="322.6" cy="189.6" r="1.12"/>
<circle cx="322.2" cy="190.9" r="1.12"/>
<circle cx="322.3" cy="192.2" r="1.12"/>
<circle cx="322.3" cy="193.5" r="1.12"/>
<circle cx="322.8" cy="194.8" r="1.12"/>
<circle cx="294.5" cy="204.5" r="1.12"/>
<circle cx="294.1" cy="205.8" r="1.12"/>
<circle cx="294.5" cy="207.1" r="1.12"/>
<circle cx="294" cy="208.4" r="1.12"/>
<circle cx="294.4" cy="209.7" r="1.12"/>
<circle cx="294" cy="211" r="1.12"/>
<circle cx="294" cy="212.3" r="1.12"/>
<circle cx="294.6" cy="213.6" r="1.12"/>
<circle cx="294.1" cy="214.9" r="1.12"/>
<circle cx="294.1" cy="216.2" r="1.12"/>
<circle cx="294.6" cy="217.5" r="1.12"/>
<circle cx="294.6" cy="218.8" r="1.12"/>
<circle cx="294.2" cy="220.1" r="1.12"/>
<circle cx="325.3" cy="185.7" r="1.12"/>
<circle cx="325" cy="187" r="1.12"/>
<circle cx="325.1" cy="188.3" r="1.12"/>
</g>
<line x1="252.9" y1="253.6" x2="451.9" y2="15.8" stroke="#1a1a1a" stroke-width="1.15" stroke-dasharray="3.87 3.44" stroke-dashoffset="0"/>
<line x1="252.9" y1="241.9" x2="451.5" y2="112.7" stroke="#000" stroke-width="1.3"/>
<path d="M252.9 16.1V253.9H451.5" fill="none" stroke="#3a3a3a" stroke-width="1.0"/>
<path d="M262.0 253.9v3.0M322.1 253.9v3.0M382.3 253.9v3.0M442.4 253.9v3.0M252.9 243.2h-3.0M252.9 171.2h-3.0M252.9 99.2h-3.0M252.9 27.2h-3.0" stroke="#333" stroke-width="0.9" fill="none"/>
<g font-size="8.6" fill="#444" stroke="#444" stroke-width="0.2">
<text transform="translate(262.0,264.2) scale(1,1.12)" text-anchor="middle">0</text>
<text transform="translate(322.1,264.2) scale(1,1.12)" text-anchor="middle">200</text>
<text transform="translate(382.3,264.2) scale(1,1.12)" text-anchor="middle">400</text>
<text transform="translate(442.4,264.2) scale(1,1.12)" text-anchor="middle">600</text>
<text transform="translate(248.5,246.7) scale(1,1.12)" text-anchor="end">0</text>
<text transform="translate(248.5,174.7) scale(1,1.12)" text-anchor="end">200</text>
<text transform="translate(248.5,102.7) scale(1,1.12)" text-anchor="end">400</text>
<text transform="translate(248.5,30.7) scale(1,1.12)" text-anchor="end">600</text>
</g>
<text x="250.7" y="8.8" font-size="10.55" fill="#000" stroke="#000" stroke-width="0.18">Soil water content in cover crop (mm)</text>
<text x="257.9" y="276.5" font-size="10.55" fill="#000" stroke="#000" stroke-width="0.18">Soil water content in control fallow (mm)</text>
<text x="260.2" y="30.95" font-size="15.2" font-weight="bold" fill="#000" stroke="#000" stroke-width="0.3">(b)</text>
</g>
<g id="panel-c">
<g fill="#000">
<circle cx="541.3" cy="152.8" r="1.12"/>
<circle cx="533.4" cy="163.7" r="1.12"/>
<circle cx="545.3" cy="163.3" r="1.12"/>
<circle cx="545.3" cy="166.8" r="1.12"/>
<circle cx="526.7" cy="176" r="1.12"/>
<circle cx="545.3" cy="176.5" r="1.12"/>
<circle cx="547" cy="176.5" r="1.12"/>
<circle cx="526.7" cy="177.8" r="1.12"/>
<circle cx="526.7" cy="189" r="1.12"/>
<circle cx="526.7" cy="191.5" r="1.12"/>
<circle cx="526.7" cy="194" r="1.12"/>
<circle cx="526.7" cy="199.5" r="1.12"/>
<circle cx="526.7" cy="202" r="1.12"/>
<circle cx="526.7" cy="205" r="1.12"/>
<circle cx="526.7" cy="207.5" r="1.12"/>
<circle cx="526.7" cy="210" r="1.12"/>
<circle cx="526.7" cy="212.5" r="1.12"/>
<circle cx="526.7" cy="215" r="1.12"/>
<circle cx="526.7" cy="219" r="1.12"/>
<circle cx="526.7" cy="221.5" r="1.12"/>
<circle cx="529" cy="182.9" r="1.12"/>
<circle cx="529" cy="185.5" r="1.12"/>
<circle cx="516.7" cy="189.9" r="1.12"/>
<circle cx="532.5" cy="189" r="1.12"/>
<circle cx="535.1" cy="188.2" r="1.12"/>
<circle cx="539.6" cy="186.4" r="1.12"/>
<circle cx="539.6" cy="188.6" r="1.12"/>
<circle cx="539.6" cy="190.8" r="1.12"/>
<circle cx="545.6" cy="182" r="1.12"/>
<circle cx="545.6" cy="184.5" r="1.12"/>
<circle cx="545.6" cy="187" r="1.12"/>
<circle cx="545.6" cy="189.5" r="1.12"/>
<circle cx="545.6" cy="192" r="1.12"/>
<circle cx="545.6" cy="194.3" r="1.12"/>
<circle cx="545.6" cy="197" r="1.12"/>
<circle cx="545.6" cy="207.5" r="1.12"/>
<circle cx="545.6" cy="210" r="1.12"/>
<circle cx="545.6" cy="212.7" r="1.12"/>
<circle cx="545.6" cy="214.8" r="1.12"/>
<circle cx="545.6" cy="217.1" r="1.12"/>
<circle cx="545.6" cy="219.6" r="1.12"/>
<circle cx="545.6" cy="222.3" r="1.12"/>
<circle cx="545.6" cy="226.7" r="1.12"/>
<circle cx="545.6" cy="229.3" r="1.12"/>
<circle cx="545.6" cy="232" r="1.12"/>
<circle cx="512.3" cy="200" r="1.12"/>
<circle cx="515.8" cy="200" r="1.12"/>
<circle cx="532.5" cy="197.8" r="1.12"/>
<circle cx="532.5" cy="201.3" r="1.12"/>
<circle cx="532.5" cy="204" r="1.12"/>
<circle cx="538.6" cy="197" r="1.12"/>
<circle cx="538.6" cy="199.6" r="1.12"/>
<circle cx="542.1" cy="201.3" r="1.12"/>
<circle cx="528.1" cy="206.6" r="1.12"/>
<circle cx="529.9" cy="204.8" r="1.12"/>
<circle cx="535.1" cy="207.5" r="1.12"/>
<circle cx="538.6" cy="206.6" r="1.12"/>
<circle cx="533.4" cy="210.1" r="1.12"/>
<circle cx="534.2" cy="212.7" r="1.12"/>
<circle cx="512.3" cy="210" r="1.12"/>
<circle cx="516.7" cy="209.7" r="1.12"/>
<circle cx="538.6" cy="210" r="1.12"/>
<circle cx="538.6" cy="212.7" r="1.12"/>
<circle cx="506.2" cy="218" r="1.12"/>
<circle cx="506.2" cy="220.6" r="1.12"/>
<circle cx="512.3" cy="216.2" r="1.12"/>
<circle cx="516.7" cy="215.4" r="1.12"/>
<circle cx="518.5" cy="217.1" r="1.12"/>
<circle cx="522" cy="217.1" r="1.12"/>
<circle cx="538.6" cy="214.5" r="1.12"/>
<circle cx="539.5" cy="216.2" r="1.12"/>
<circle cx="538.6" cy="218" r="1.12"/>
<circle cx="540.4" cy="218.9" r="1.12"/>
<circle cx="532.5" cy="219.7" r="1.12"/>
<circle cx="532.5" cy="222.4" r="1.12"/>
<circle cx="522" cy="221.5" r="1.12"/>
<circle cx="519.3" cy="222" r="1.12"/>
<circle cx="511.4" cy="222.4" r="1.12"/>
<circle cx="505.3" cy="222.3" r="1.12"/>
<circle cx="506.2" cy="226.7" r="1.12"/>
<circle cx="506.2" cy="229" r="1.12"/>
<circle cx="515.8" cy="222.3" r="1.12"/>
<circle cx="512.3" cy="236.8" r="1.12"/>
<circle cx="515.8" cy="236.8" r="1.12"/>
<circle cx="522.8" cy="219.6" r="1.12"/>
<circle cx="523.7" cy="224.9" r="1.12"/>
<circle cx="523.7" cy="227.5" r="1.12"/>
<circle cx="523.7" cy="229.6" r="1.12"/>
<circle cx="528.1" cy="223" r="1.12"/>
<circle cx="528.1" cy="225.5" r="1.12"/>
<circle cx="528.1" cy="228" r="1.12"/>
<circle cx="528.1" cy="230.5" r="1.12"/>
<circle cx="528.1" cy="233" r="1.12"/>
<circle cx="532.9" cy="225" r="1.12"/>
<circle cx="532.9" cy="227.5" r="1.12"/>
<circle cx="532.9" cy="230" r="1.12"/>
<circle cx="532.9" cy="232.5" r="1.12"/>
<circle cx="538.6" cy="220.5" r="1.12"/>
<circle cx="538.6" cy="224.9" r="1.12"/>
<circle cx="540.4" cy="226.7" r="1.12"/>
<circle cx="538.6" cy="228.4" r="1.12"/>
<circle cx="538.6" cy="237.2" r="1.12"/>
<circle cx="540.4" cy="237.2" r="1.12"/>
<circle cx="597.5" cy="148.9" r="1.12"/>
<circle cx="597.5" cy="151.9" r="1.12"/>
<circle cx="550.2" cy="165.1" r="1.12"/>
<circle cx="564.6" cy="166.5" r="1.12"/>
<circle cx="578.9" cy="168.9" r="1.12"/>
<circle cx="578.9" cy="171.8" r="1.12"/>
<circle cx="597.5" cy="170.4" r="1.12"/>
<circle cx="561" cy="176" r="1.12"/>
<circle cx="564.6" cy="175.6" r="1.12"/>
<circle cx="564.6" cy="179.5" r="1.12"/>
<circle cx="564.6" cy="182" r="1.12"/>
<circle cx="564.6" cy="184.5" r="1.12"/>
<circle cx="564.6" cy="187" r="1.12"/>
<circle cx="572.5" cy="186.4" r="1.12"/>
<circle cx="578.9" cy="187.3" r="1.12"/>
<circle cx="561.9" cy="189.9" r="1.12"/>
<circle cx="561.9" cy="192.5" r="1.12"/>
<circle cx="561.9" cy="195.2" r="1.12"/>
<circle cx="578.9" cy="195.2" r="1.12"/>
<circle cx="578.9" cy="196.9" r="1.12"/>
<circle cx="592.1" cy="192.5" r="1.12"/>
<circle cx="592.1" cy="194.6" r="1.12"/>
<circle cx="572.5" cy="197" r="1.12"/>
<circle cx="572.5" cy="198.9" r="1.12"/>
<circle cx="572.5" cy="200.8" r="1.12"/>
<circle cx="572.5" cy="202.7" r="1.12"/>
<circle cx="572.5" cy="204.6" r="1.12"/>
<circle cx="572.5" cy="206.5" r="1.12"/>
<circle cx="572.5" cy="208.4" r="1.12"/>
<circle cx="572.5" cy="210.3" r="1.12"/>
<circle cx="572.5" cy="212.2" r="1.12"/>
<circle cx="572.5" cy="214.1" r="1.12"/>
<circle cx="564.6" cy="200.4" r="1.12"/>
<circle cx="561.9" cy="202.5" r="1.12"/>
<circle cx="561.9" cy="204.4" r="1.12"/>
<circle cx="561.9" cy="206.3" r="1.12"/>
<circle cx="561.9" cy="208.2" r="1.12"/>
<circle cx="561.9" cy="210.1" r="1.12"/>
<circle cx="561.9" cy="212" r="1.12"/>
<circle cx="549.6" cy="203" r="1.12"/>
<circle cx="549.6" cy="205.7" r="1.12"/>
<circle cx="549.6" cy="208" r="1.12"/>
<circle cx="578.9" cy="209.2" r="1.12"/>
<circle cx="578.9" cy="212.2" r="1.12"/>
<circle cx="592.1" cy="215" r="1.12"/>
<circle cx="592.1" cy="222.3" r="1.12"/>
<circle cx="592.1" cy="228.4" r="1.12"/>
<circle cx="549.6" cy="216.2" r="1.12"/>
<circle cx="549.6" cy="220.6" r="1.12"/>
<circle cx="548.4" cy="215.3" r="1.12"/>
<circle cx="548.4" cy="217.9" r="1.12"/>
<circle cx="550.2" cy="223.7" r="1.12"/>
<circle cx="548.4" cy="229.8" r="1.12"/>
<circle cx="652" cy="116.5" r="1.12"/>
<circle cx="659.7" cy="116.5" r="1.12"/>
<circle cx="608.2" cy="121.8" r="1.12"/>
<circle cx="608.2" cy="144.9" r="1.12"/>
<circle cx="604.6" cy="151.9" r="1.12"/>
<circle cx="659.7" cy="139.6" r="1.12"/>
<circle cx="659.7" cy="152.6" r="1.12"/>
<circle cx="659.7" cy="165.6" r="1.12"/>
<circle cx="659.7" cy="177.9" r="1.12"/>
<circle cx="659.7" cy="187.8" r="1.12"/>
<circle cx="659.9" cy="205.4" r="1.12"/>
<circle cx="604.6" cy="191" r="1.12"/>
<circle cx="604.6" cy="195.2" r="1.12"/>
<circle cx="604.6" cy="200.9" r="1.12"/>
<circle cx="604.6" cy="210.1" r="1.12"/>
<circle cx="604.6" cy="218.7" r="1.12"/>
<circle cx="604.6" cy="225.8" r="1.12"/>
<circle cx="608.2" cy="56" r="1.12"/>
<circle cx="652" cy="85.4" r="1.12"/>
<circle cx="652" cy="93.2" r="1.12"/>
<circle cx="572.7" cy="197" r="1.12"/>
<circle cx="572.7" cy="198.3" r="1.12"/>
<circle cx="572.5" cy="199.6" r="1.12"/>
<circle cx="572.3" cy="200.9" r="1.12"/>
<circle cx="572.2" cy="202.2" r="1.12"/>
<circle cx="572.6" cy="203.5" r="1.12"/>
<circle cx="572.5" cy="204.8" r="1.12"/>
<circle cx="572.7" cy="206.1" r="1.12"/>
<circle cx="572.4" cy="207.4" r="1.12"/>
<circle cx="572.7" cy="208.7" r="1.12"/>
<circle cx="572.3" cy="210" r="1.12"/>
<circle cx="572.7" cy="211.3" r="1.12"/>
<circle cx="572.7" cy="212.6" r="1.12"/>
<circle cx="572.4" cy="213.9" r="1.12"/>
<circle cx="561.9" cy="202.5" r="1.12"/>
<circle cx="562" cy="203.8" r="1.12"/>
<circle cx="561.7" cy="205.1" r="1.12"/>
<circle cx="561.9" cy="206.4" r="1.12"/>
<circle cx="562.1" cy="207.7" r="1.12"/>
<circle cx="561.7" cy="209" r="1.12"/>
<circle cx="562.1" cy="210.3" r="1.12"/>
<circle cx="562" cy="211.6" r="1.12"/>
<circle cx="562.1" cy="212.9" r="1.12"/>
<circle cx="526.6" cy="204" r="1.12"/>
<circle cx="526.4" cy="205.3" r="1.12"/>
<circle cx="526.9" cy="206.6" r="1.12"/>
<circle cx="526.9" cy="207.9" r="1.12"/>
<circle cx="526.7" cy="209.2" r="1.12"/>
<circle cx="526.4" cy="210.5" r="1.12"/>
<circle cx="526.5" cy="211.8" r="1.12"/>
<circle cx="526.8" cy="213.1" r="1.12"/>
<circle cx="526.6" cy="214.4" r="1.12"/>
<circle cx="527" cy="215.7" r="1.12"/>
<circle cx="528.2" cy="223" r="1.12"/>
<circle cx="527.9" cy="224.3" r="1.12"/>
<circle cx="528.2" cy="225.6" r="1.12"/>
<circle cx="528" cy="226.9" r="1.12"/>
<circle cx="528.4" cy="228.2" r="1.12"/>
<circle cx="528.4" cy="229.5" r="1.12"/>
<circle cx="528.1" cy="230.8" r="1.12"/>
<circle cx="528.2" cy="232.1" r="1.12"/>
<circle cx="545.7" cy="182" r="1.12"/>
<circle cx="545.8" cy="183.3" r="1.12"/>
<circle cx="545.9" cy="184.6" r="1.12"/>
<circle cx="545.3" cy="185.9" r="1.12"/>
<circle cx="545.5" cy="187.2" r="1.12"/>
<circle cx="545.7" cy="188.5" r="1.12"/>
<circle cx="545.5" cy="189.8" r="1.12"/>
<circle cx="545.7" cy="191.1" r="1.12"/>
<circle cx="545.3" cy="192.4" r="1.12"/>
<circle cx="545.9" cy="193.7" r="1.12"/>
</g>
<line x1="486.5" y1="250.3" x2="683" y2="51.8" stroke="#1a1a1a" stroke-width="1.15" stroke-dasharray="3.9 3.47" stroke-dashoffset="3.87"/>
<line x1="486.5" y1="233.5" x2="686" y2="124.8" stroke="#000" stroke-width="1.3"/>
<path d="M486.5 17.5V252.5H686" fill="none" stroke="#3a3a3a" stroke-width="1.0"/>
<path d="M495.4 252.5v3.0M555.5 252.5v3.0M615.7 252.5v3.0M675.8 252.5v3.0M486.5 241.3h-3.0M486.5 180.4h-3.0M486.5 119.5h-3.0M486.5 58.6h-3.0" stroke="#333" stroke-width="0.9" fill="none"/>
<g font-size="8.6" fill="#444" stroke="#444" stroke-width="0.2">
<text transform="translate(495.4,262.6) scale(1,1.17)" text-anchor="middle">0</text>
<text transform="translate(555.5,262.6) scale(1,1.17)" text-anchor="middle">100</text>
<text transform="translate(615.7,262.6) scale(1,1.17)" text-anchor="middle">200</text>
<text transform="translate(675.8,262.6) scale(1,1.17)" text-anchor="middle">300</text>
<text transform="translate(482.1,244.8) scale(1,1.17)" text-anchor="end">0</text>
<text transform="translate(482.1,183.9) scale(1,1.17)" text-anchor="end">100</text>
<text transform="translate(482.1,123.0) scale(1,1.17)" text-anchor="end">200</text>
<text transform="translate(482.1,62.1) scale(1,1.17)" text-anchor="end">300</text>
</g>
<text x="484.9" y="11.1" font-size="10.55" fill="#000" stroke="#000" stroke-width="0.18">Soil mineral N in cover crop (kg N ha<tspan font-size="8.3" dy="-4.9">−1</tspan><tspan dy="4.9">)</tspan></text>
<text x="487.2" y="276.2" font-size="10.55" fill="#000" stroke="#000" stroke-width="0.18">Soil mineral N in control fallow (kg N ha<tspan font-size="8.3" dy="-4.9">−1</tspan><tspan dy="4.9">)</tspan></text>
<text x="491.4" y="30.95" font-size="15.2" font-weight="bold" fill="#000" stroke="#000" stroke-width="0.3">(c)</text>
</g>
</svg>
</body></html>
